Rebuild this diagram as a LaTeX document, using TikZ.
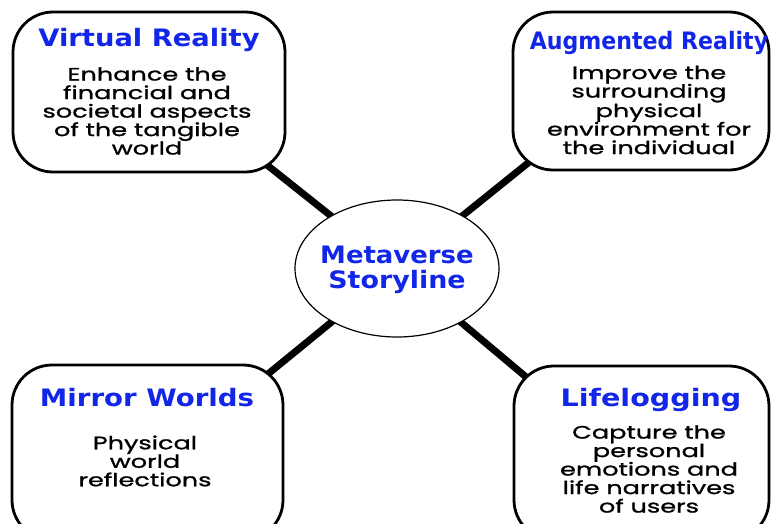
\documentclass[tikz,border=0pt]{standalone}
\usepackage{fontspec}
\usepackage{graphicx}
\usetikzlibrary{shapes.geometric,backgrounds}
\newfontfamily\headfont{DejaVu Sans}[BoldFont={DejaVu Sans Bold}]
\newfontfamily\cardfont{Poppins}[FakeStretch=1.42, FakeBold=1.2]
\definecolor{headblue}{RGB}{18,38,232}
% horizontal stretch of a heading
\newcommand{\widen}[2]{\scalebox{#1}[1]{#2}}
\tikzset{
  card/.style={draw=black, line width=2.8pt, fill=white, rounded corners=40pt, inner sep=0pt},
  hub/.style={draw=black, line width=1.2pt, fill=white, ellipse, inner sep=0pt,
              minimum width=204pt, minimum height=137pt},
  head/.style={text=headblue, inner sep=0pt, font=\headfont\bfseries\fontsize{24}{25}\selectfont},
  hubtext/.style={text=headblue, inner sep=0pt, align=center,
                  font=\headfont\bfseries\fontsize{24}{25}\selectfont},
  body/.style={text=black, inner sep=0pt, align=center,
               font=\cardfont\fontsize{18}{18.5}\selectfont},
  link/.style={draw=black, line width=7pt}
}
\begin{document}
\begin{tikzpicture}[x=1pt,y=-1pt]
\useasboundingbox (0,0) rectangle (771,523);

% four outer cards
\node[card, minimum width=272pt, minimum height=160pt] (vr) at (149,92) {};
\node[card, minimum width=256pt, minimum height=158pt] (ar) at (641,91) {};
\node[card, minimum width=271pt, minimum height=175pt] (mw) at (147.5,452.5) {};
\node[card, minimum width=255pt, minimum height=174pt] (ll) at (641.5,453) {};

% central ellipse
\node[hub] (c) at (397,268.5) {};
\node[hubtext] (ct) at (397,270) {\widen{1.08}{Metaverse}\\\widen{1.12}{Storyline}};

% spokes behind the cards
\begin{scope}[on background layer]
  \draw[link] (c.center) -- ([yshift=21pt]vr.center);
  \draw[link] (c.center) -- ([yshift=19pt]ar.center);
  \draw[link] (c.center) -- ([yshift=-20pt]mw.center);
  \draw[link] (c.center) -- ([yshift=-21pt]ll.center);
\end{scope}

% card titles
\node[head] (vrt) at (149,40) {\widen{1.14}{Virtual Reality}};
\node[head] (art) at (649,43) {\widen{0.92}{Augmented Reality}};
\node[head] (mwt) at (147,398) {\widen{1.15}{Mirror Worlds}};
\node[head] (llt) at (651,400) {\widen{1.19}{Lifelogging}};

% card texts
\node[body] (vrb) at (147,111) {Enhance the\\financial and\\societal aspects\\of the tangible\\world};
\node[body] (arb) at (649,110) {Improve the\\surrounding\\physical\\environment for\\the individual};
\node[body] (mwb) at (145,461) {Physical\\world\\reflections};
\node[body] (llb) at (649,469) {Capture the\\personal\\emotions and\\life narratives\\of users};
\end{tikzpicture}
\end{document}
